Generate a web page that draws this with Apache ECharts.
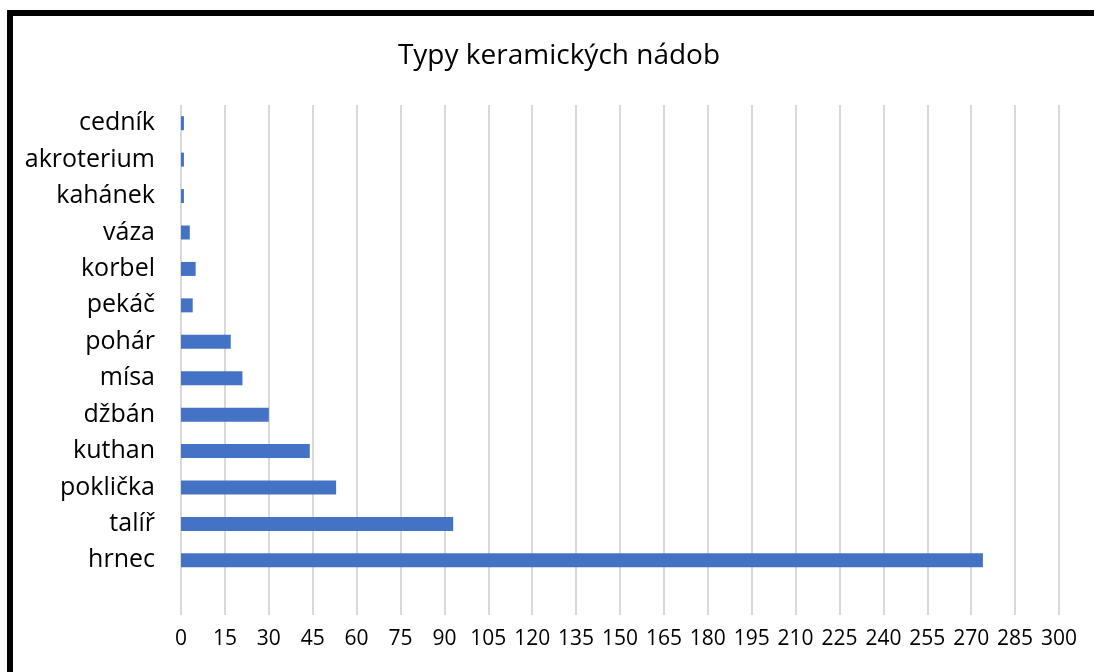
<!DOCTYPE html>
<html>
<head>
<meta charset="utf-8">
<script src="https://cdn.jsdelivr.net/npm/echarts@6/dist/echarts.min.js"></script>
<style>
  html, body { margin: 0; padding: 0; background: #fff; }
  #chart { width: 1094px; height: 672px; }
</style>
</head>
<body>
<div id="chart"></div>
<script>
// categories listed bottom to top, first one is the empty slot under hrnec
var categories = ['', 'hrnec', 'talíř', 'poklička', 'kuthan', 'džbán', 'mísa', 'pohár', 'pekáč', 'korbel', 'váza', 'kahánek', 'akroterium', 'cedník']
var counts = [null, 274, 93, 53, 44, 30, 21, 17, 4, 5, 3, 1, 1, 1]
var titleText = 'Typy keramických nádob'

var font = '"Open Sans", "Noto Sans", sans-serif'
var chart = echarts.init(document.getElementById('chart'))

var options = {
  animation: false,
  backgroundColor: '#fff',
  title: {
    text: titleText,
    left: 554,
    top: 37,
    textAlign: 'center',
    textStyle: {
      fontFamily: font,
      fontSize: 28,
      fontWeight: 'normal',
      color: '#000'
    }
  },
  graphic: [{
    type: 'rect',
    shape: { x: 10, y: 13, width: 1200, height: 800 },
    style: { fill: 'none', stroke: '#000', lineWidth: 6 },
    z: 100
  }],
  grid: {
    left: 181,
    right: 35,
    top: 105,
    bottom: 57
  },
  xAxis: {
    type: 'value',
    min: 0,
    max: 300,
    interval: 15,
    axisLine: { show: false },
    axisTick: { show: false },
    axisLabel: {
      margin: 14,
      fontFamily: font,
      fontSize: 21,
      color: '#000'
    },
    splitLine: {
      lineStyle: { color: '#d9d9d9', width: 2 }
    }
  },
  yAxis: {
    type: 'category',
    data: categories,
    axisLine: { show: false },
    axisTick: { show: false },
    axisLabel: {
      margin: 26,
      fontFamily: font,
      fontSize: 25,
      color: '#000'
    }
  },
  series: [{
    type: 'bar',
    data: counts,
    barWidth: 14,
    itemStyle: { color: '#4472c4' }
  }]
}

chart.setOption(options)
</script>
</body>
</html>
